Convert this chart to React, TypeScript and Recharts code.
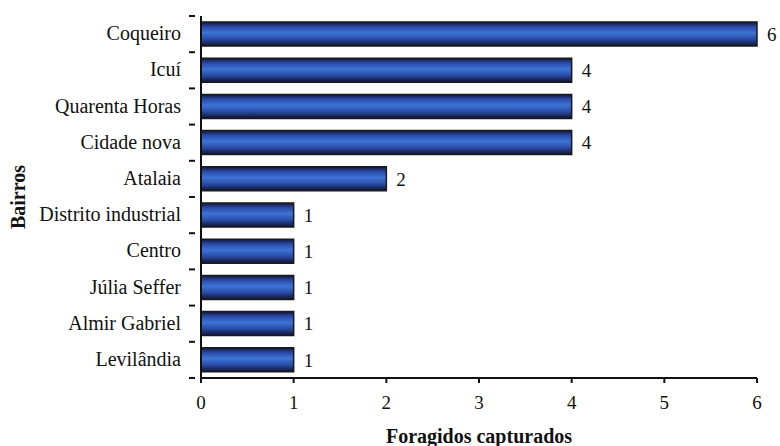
import { BarChart, Bar, XAxis, YAxis, LabelList, Label } from "recharts";

const bairros = [
  "Coqueiro",
  "Icuí",
  "Quarenta Horas",
  "Cidade nova",
  "Atalaia",
  "Distrito industrial",
  "Centro",
  "Júlia Seffer",
  "Almir Gabriel",
  "Levilândia",
];
const capturados = [6, 4, 4, 4, 2, 1, 1, 1, 1, 1];
const xTicks = [0, 1, 2, 3, 4, 5, 6];

const data = bairros.map((nome, i) => ({ nome, valor: capturados[i] }));

const font = "'Liberation Serif', 'DejaVu Serif', serif";
const BAND = (446 - 16 - 68) / bairros.length;

// category label plus the small tick marks on the band edges
function CategoryTick(props: any) {
  const { x, y, payload, index } = props;
  const axisX = x + 14;
  return (
    <g>
      <text
        x={x}
        y={y}
        dy={6}
        textAnchor="end"
        style={{ fill: "#111", fontSize: 20, fontFamily: font }}
      >
        {payload.value}
      </text>
      <line x1={axisX - 6} x2={axisX} y1={y - BAND / 2} y2={y - BAND / 2} stroke="#111" strokeWidth={2} />
      {index === bairros.length - 1 && (
        <line x1={axisX - 6} x2={axisX} y1={y + BAND / 2} y2={y + BAND / 2} stroke="#111" strokeWidth={2} />
      )}
    </g>
  );
}

export default function App() {
  return (
    <div style={{ position: "absolute", left: 0, top: 0, background: "#fff", fontFamily: font }}>
      <BarChart
        width={780}
        height={446}
        data={data}
        layout="vertical"
        margin={{ top: 16, right: 23, left: 0, bottom: 0 }}
        barCategoryGap={0}
        style={{ fontFamily: font }}
      >
        <defs>
          <linearGradient id="barFill" x1="0" y1="0" x2="0" y2="1">
            <stop offset="0%" stopColor="#10163a" />
            <stop offset="20%" stopColor="#2a4aa8" />
            <stop offset="45%" stopColor="#3d74d6" />
            <stop offset="70%" stopColor="#2b4eaa" />
            <stop offset="100%" stopColor="#0e1230" />
          </linearGradient>
        </defs>
        <XAxis
          type="number"
          domain={[0, 6]}
          ticks={xTicks}
          height={68}
          stroke="#111"
          strokeWidth={2}
          tickSize={5}
          tick={{ fill: "#111", fontSize: 19, style: { fontFamily: font } }}
          tickMargin={13}
        >
          <Label
            value="Foragidos capturados"
            position="insideBottom"
            offset={3}
            style={{ fill: "#111", fontSize: 20, fontWeight: "bold", fontFamily: font }}
          />
        </XAxis>
        <YAxis
          type="category"
          dataKey="nome"
          width={201}
          stroke="#111"
          strokeWidth={2}
          tickLine={false}
          tick={<CategoryTick />}
          tickMargin={14}
        >
          <Label
            value="Bairros"
            angle={-90}
            position="insideLeft"
            offset={18}
            style={{ fill: "#111", fontSize: 20, fontWeight: "bold", fontFamily: font, textAnchor: "middle" }}
          />
        </YAxis>
        <Bar
          dataKey="valor"
          barSize={24}
          fill="url(#barFill)"
          stroke="#1a1a1a"
          strokeWidth={1.5}
          isAnimationActive={false}
        >
          <LabelList
            dataKey="valor"
            position="right"
            offset={10}
            style={{ fill: "#111", fontSize: 19, fontFamily: font }}
          />
        </Bar>
      </BarChart>
    </div>
  );
}
